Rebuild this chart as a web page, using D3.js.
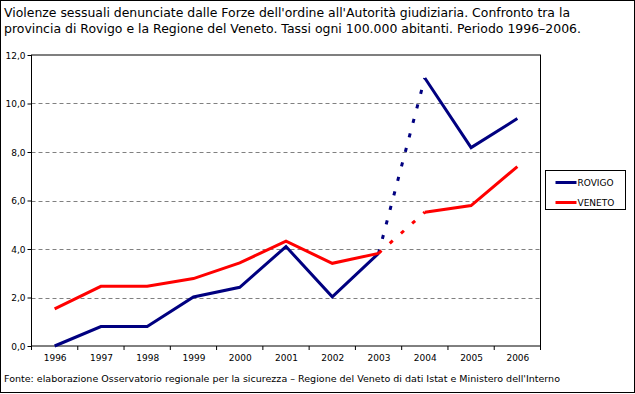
<!DOCTYPE html>
<html>
<head>
<meta charset="utf-8">
<script src="https://cdn.jsdelivr.net/npm/d3@7"></script>
<style>
body { margin:0; background:#fff; }
text { font-family:"DejaVu Sans", Verdana, sans-serif; fill:#000; }
</style>
</head>
<body>
<svg id="chart"></svg>
<script>
// dati
var years = ["1996","1997","1998","1999","2000","2001","2002","2003","2004","2005","2006"];
var rovigo = [0.0, 0.8, 0.8, 2.02, 2.42, 4.1, 2.03, 3.82, 11.05, 8.18, 9.38];
var veneto = [1.53, 2.46, 2.46, 2.78, 3.43, 4.32, 3.41, 3.82, 5.52, 5.79, 7.4];
var yTicks = [0, 2, 4, 6, 8, 10, 12];
var seriesNames = ["ROVIGO", "VENETO"];
var seriesColors = ["#000080", "#ff0000"];
var titleLines = [
    "Violenze sessuali denunciate dalle Forze dell'ordine all'Autorità giudiziaria. Confronto tra la",
    "provincia di Rovigo e la Regione del Veneto. Tassi ogni 100.000 abitanti. Periodo 1996–2006."
];
var fonte = "Fonte: elaborazione Osservatorio regionale per la sicurezza – Regione del Veneto di dati Istat e Ministero dell'Interno";

var screen = {width:635, height:394};
var margins = {top:55, left:31.5, right:94.5, bottom:48};
var graph = {
    width: screen.width - margins.left - margins.right,
    height: screen.height - margins.top - margins.bottom
};

var svg = d3.select("#chart")
    .attr("width", screen.width)
    .attr("height", screen.height);

// cornice esterna
svg.append("rect")
    .attr("x", 0.5).attr("y", 0.5)
    .attr("width", 634).attr("height", 392)
    .attr("fill", "#fff").attr("stroke", "#000");

// titolo
titleLines.forEach(function(t, i) {
    svg.append("text")
        .attr("x", 4)
        .attr("y", 17 + i * 16)
        .attr("font-size", 12)
        .attr("textLength", i == 0 ? 566 : 577)
        .attr("lengthAdjust", "spacingAndGlyphs")
        .text(t);
});

var xScale = d3.scalePoint()
    .domain(years)
    .range([0, graph.width])
    .padding(0.5);
var step = xScale.step();

var yScale = d3.scaleLinear()
    .domain([0, 12])
    .range([graph.height, 0]);

var g = svg.append("g")
    .attr("transform", "translate(" + margins.left + "," + margins.top + ")");

// griglia tratteggiata
g.selectAll(".grid")
    .data(yTicks.filter(function(d) { return d > 0 && d < 12; }))
    .enter()
    .append("line")
    .attr("x1", 0).attr("x2", graph.width)
    .attr("y1", function(d) { return Math.round(yScale(d)) + 0.5; })
    .attr("y2", function(d) { return Math.round(yScale(d)) + 0.5; })
    .attr("stroke", "#808080")
    .attr("stroke-dasharray", "4,3");

// bordo area del grafico
g.append("rect")
    .attr("x", 0).attr("y", 0)
    .attr("width", graph.width).attr("height", graph.height)
    .attr("fill", "none").attr("stroke", "#000");

// asse y
var yAxis = d3.axisLeft(yScale)
    .tickValues(yTicks)
    .tickSize(4)
    .tickFormat(function(d) { return d3.format(".1f")(d).replace(".", ","); });
g.append("g").call(yAxis)
    .call(function(a) {
        a.select(".domain").remove();
        a.selectAll("text").attr("font-size", 9).attr("font-family", "DejaVu Sans").attr("x", -6).attr("dy", "0.35em");
        a.selectAll("line").attr("stroke", "#000");
    });

// asse x
var xAxis = d3.axisBottom(xScale).tickSize(0).tickPadding(9);
g.append("g")
    .attr("transform", "translate(0," + graph.height + ")")
    .call(xAxis)
    .call(function(a) {
        a.select(".domain").remove();
        a.selectAll("text").attr("font-size", 9).attr("font-family", "DejaVu Sans");
    });

// tacche tra le categorie
g.selectAll(".xtick")
    .data(years.concat(["end"]))
    .enter()
    .append("line")
    .attr("x1", function(d, i) { return i < years.length ? xScale(d) - step / 2 : xScale(years[years.length - 1]) + step / 2; })
    .attr("x2", function(d, i) { return i < years.length ? xScale(d) - step / 2 : xScale(years[years.length - 1]) + step / 2; })
    .attr("y1", graph.height)
    .attr("y2", graph.height + 4)
    .attr("stroke", "#000");

// linee
var lineGenerator = d3.line()
    .x(function(d) { return xScale(d.year); })
    .y(function(d) { return yScale(d.value); });

[rovigo, veneto].forEach(function(vals, s) {
    var pts = vals.map(function(v, i) { return {year: years[i], value: v}; });
    var pieces = [
        {data: pts.slice(0, 8), dash: null},
        {data: pts.slice(7, 9), dash: "4,11"},
        {data: pts.slice(8), dash: null}
    ];
    pieces.forEach(function(p) {
        g.append("path")
            .datum(p.data)
            .attr("d", lineGenerator)
            .attr("fill", "none")
            .attr("stroke", seriesColors[s])
            .attr("stroke-width", 3)
            .attr("stroke-dasharray", p.dash);
    });
});

// legenda
var legend = svg.append("g").attr("transform", "translate(545.5,170.5)");
legend.append("rect")
    .attr("width", 80).attr("height", 39)
    .attr("fill", "#fff").attr("stroke", "#000");
seriesNames.forEach(function(n, i) {
    legend.append("line")
        .attr("x1", 10).attr("x2", 31)
        .attr("y1", 12 + i * 20).attr("y2", 12 + i * 20)
        .attr("stroke", seriesColors[i])
        .attr("stroke-width", 3);
    legend.append("text")
        .attr("x", 32)
        .attr("y", 15.5 + i * 20)
        .attr("font-size", 9)
        .text(n);
});

// fonte
svg.append("text")
    .attr("x", 4)
    .attr("y", 382)
    .attr("font-size", 9.5)
    .attr("textLength", 556)
    .attr("lengthAdjust", "spacingAndGlyphs")
    .text(fonte);
</script>
</body>
</html>
